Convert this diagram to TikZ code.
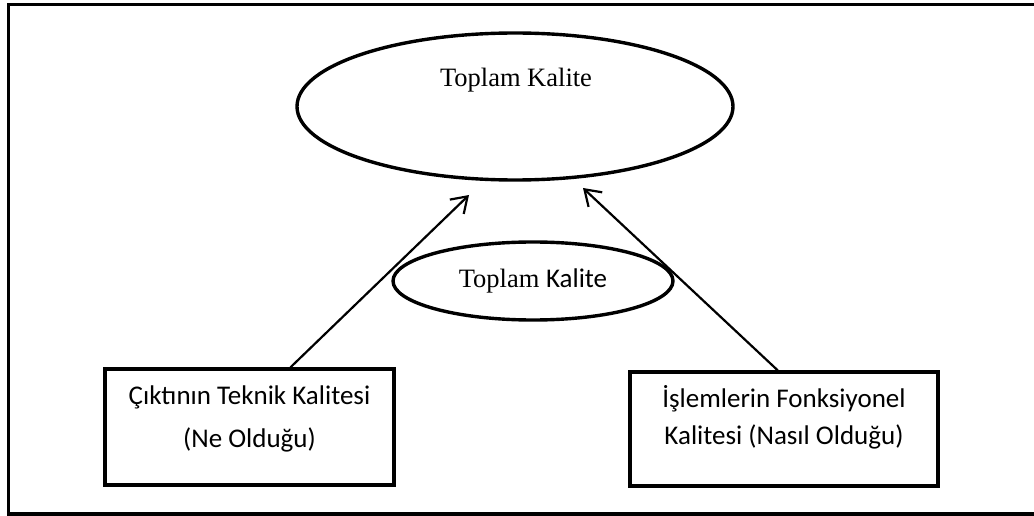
\documentclass[tikz,border=0pt]{standalone}
\usepackage{fontspec}
\setmainfont{Liberation Serif}
\newfontfamily\calibri{Carlito}
\usetikzlibrary{shapes.geometric,arrows.meta,calc}

\tikzset{
  oval/.style={ellipse, draw, line width=3.4pt, inner sep=0pt},
  qbox/.style={rectangle, draw, line width=3.2pt, inner sep=0pt, align=center},
  serif/.style={font=\fontsize{26.5}{31}\selectfont, inner sep=0pt},
  arr/.style={line width=2.2pt, -{Straight Barb[length=15pt,width=20pt,line width=2.2pt]}},
  frame/.style={line width=3.2pt}
}

\begin{document}
\begin{tikzpicture}[x=1pt, y=-1pt]
  \useasboundingbox (0,0) rectangle (1034,516);

  % open frame around the figure
  \draw[frame] (1040,4.5) -- (8.5,4.5) -- (8.5,514) -- (1040,514);

  % total quality ellipse
  \node[oval, minimum width=436pt, minimum height=147pt] (total) at (515,106.5) {};
  \node[serif, anchor=base] (totaltext) at (516,87) {Toplam Kalite};

  % inner ellipse
  \node[oval, minimum width=280pt, minimum height=78pt] (inner) at (533,281) {};
  \node[serif, anchor=base] (innertext) at (533,287) {Toplam {\calibri\fontsize{27}{31}\selectfont Kalite}};

  % the two quality dimensions
  \node[qbox, font=\calibri\fontsize{27}{43}\selectfont, minimum width=289pt, minimum height=116pt,
        text depth=20pt] (tech) at (249.5,427)
    {Çıktının Teknik Kalitesi\\(Ne Olduğu)};
  \node[qbox, font=\calibri\fontsize{27}{37}\selectfont, minimum width=308pt, minimum height=114pt,
        text depth=29pt] (func) at (784,429)
    {İşlemlerin Fonksiyonel\\Kalitesi (Nasıl Olduğu)};

  % arrows pointing up to the total quality
  \coordinate (techsrc) at ($(tech.north west)!0.64!(tech.north east)$);
  \coordinate (funcsrc) at ($(func.north west)!0.48!(func.north east)$);
  \coordinate (techtip) at (469,195);
  \coordinate (functip) at (583,188);
  \draw[arr] (techsrc) -- (techtip);
  \draw[arr] (funcsrc) -- (functip);
\end{tikzpicture}
\end{document}
